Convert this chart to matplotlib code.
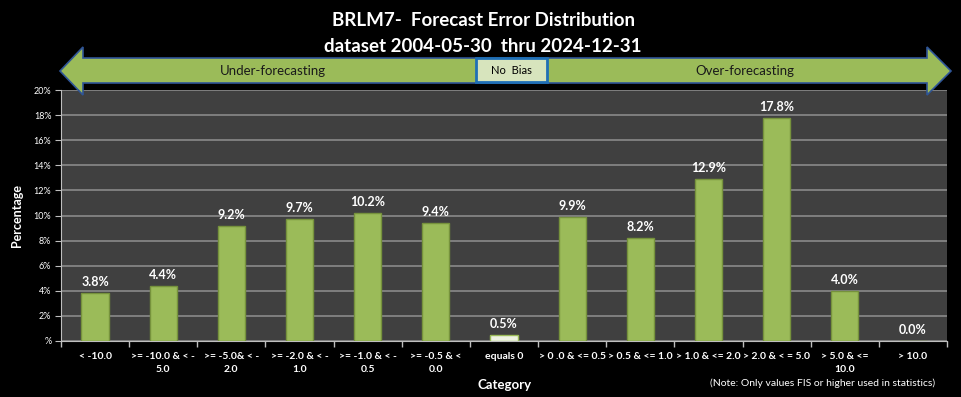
import matplotlib
matplotlib.use("Agg")
import matplotlib.pyplot as plt
from matplotlib.patches import Polygon, Rectangle
import numpy as np

categories = ["< -10.0", ">= -10.0 & < -\n5.0", ">= -5.0& < -\n2.0", ">= -2.0 & < -\n1.0",
              ">= -1.0 & < -\n0.5", ">= -0.5 & <\n0.0", "equals 0", "> 0 .0 & <= 0.5",
              "> 0.5 & <= 1.0", "> 1.0 & <= 2.0", "> 2.0 & < = 5.0", "> 5.0 & <=\n10.0", "> 10.0"]
values = [3.8, 4.4, 9.2, 9.7, 10.2, 9.4, 0.5, 9.9, 8.2, 12.9, 17.8, 4.0, 0.0]
yticks = [0, 2, 4, 6, 8, 10, 12, 14, 16, 18, 20]
ytick_labels = ["%", "2%", "4%", "6%", "8%", "10%", "12%", "14%", "16%", "18%", "20%"]
title_lines = ["BRLM7-  Forecast Error Distribution", "dataset 2004-05-30  thru 2024-12-31"]

plt.rcParams['font.family'] = ['Lato', 'DejaVu Sans']

W, H = 961, 397
fig = plt.figure(figsize=(W / 100, H / 100), dpi=100, facecolor="black")
ax = fig.add_axes([61 / W, (H - 341) / H, (947 - 61) / W, (341 - 90) / H])
ax.set_facecolor("#404040")

x = np.arange(len(categories))
colors = ["#9bbb59"] * len(values)
edges = ["#76923c"] * len(values)
colors[6] = "#eef3e2"
edges[6] = "#9bbb59"
ax.bar(x, values, width=0.4, color=colors, edgecolor=edges, linewidth=1, zorder=3)
for xi, v in zip(x, values):
    ax.text(xi, v + 0.4, f"{v:.1f}%", ha="center", va="bottom", color="white",
            fontsize=9, fontweight="bold", zorder=4)

ax.set_xlim(-0.5, len(categories) - 0.5)
ax.set_ylim(0, 20)
ax.set_yticks(yticks)
ax.set_yticklabels(ytick_labels, color="white", fontsize=6.5)
ax.yaxis.grid(True, color="#8a8a8a", linewidth=1.2, zorder=0)
ax.set_xticks(x)
ax.set_xticklabels(categories, color="white", fontsize=7.5, fontweight="bold", linespacing=1.5)
ax.set_xticks(np.arange(-0.5, len(categories), 1), minor=True)
ax.tick_params(axis="x", which="major", length=0, pad=8)
ax.tick_params(axis="x", which="minor", length=4, color="#bfbfbf", width=1)
ax.tick_params(axis="y", length=4, color="#bfbfbf", pad=3)
for s in ["top", "right"]:
    ax.spines[s].set_visible(False)
ax.spines["left"].set_color("#bfbfbf")
ax.spines["bottom"].set_color("#bfbfbf")
ax.set_ylabel("Percentage", color="white", fontsize=9, fontweight="bold", labelpad=8)

# overlay in pixel coordinates
ov = fig.add_axes([0, 0, 1, 1], zorder=10)
ov.set_xlim(0, W)
ov.set_ylim(H, 0)
ov.axis("off")
ov.patch.set_alpha(0)

ov.text(483, 20, title_lines[0], ha="center", va="center", color="white", fontsize=13.5, fontweight="bold")
ov.text(483, 47, title_lines[1], ha="center", va="center", color="white", fontsize=13.5, fontweight="bold")

arrow = Polygon([(60, 71), (83, 47), (83, 58), (927, 58), (927, 47), (951, 71),
                 (927, 95), (927, 83), (83, 83), (83, 95)], closed=True,
                facecolor="#9bbb59", edgecolor="#2f5597", linewidth=1.2)
ov.add_patch(arrow)
ov.add_patch(Rectangle((476, 58), 71, 24, facecolor="#d7e4bd", edgecolor="#1f6fb5", linewidth=2))
ov.text(511, 71, "No  Bias", ha="center", va="center", color="black", fontsize=8)
ov.text(273, 71, "Under-forecasting", ha="center", va="center", color="#1a1a1a", fontsize=9.5)
ov.text(745, 71, "Over-forecasting", ha="center", va="center", color="#1a1a1a", fontsize=9.5)

ov.text(505, 385, "Category", ha="center", va="center", color="white", fontsize=9.5, fontweight="bold")
ov.text(935, 383, "(Note: Only values FIS or higher used in statistics)", ha="right", va="center",
        color="white", fontsize=7.5)

fig.savefig("out.png", dpi=100, facecolor="black")
